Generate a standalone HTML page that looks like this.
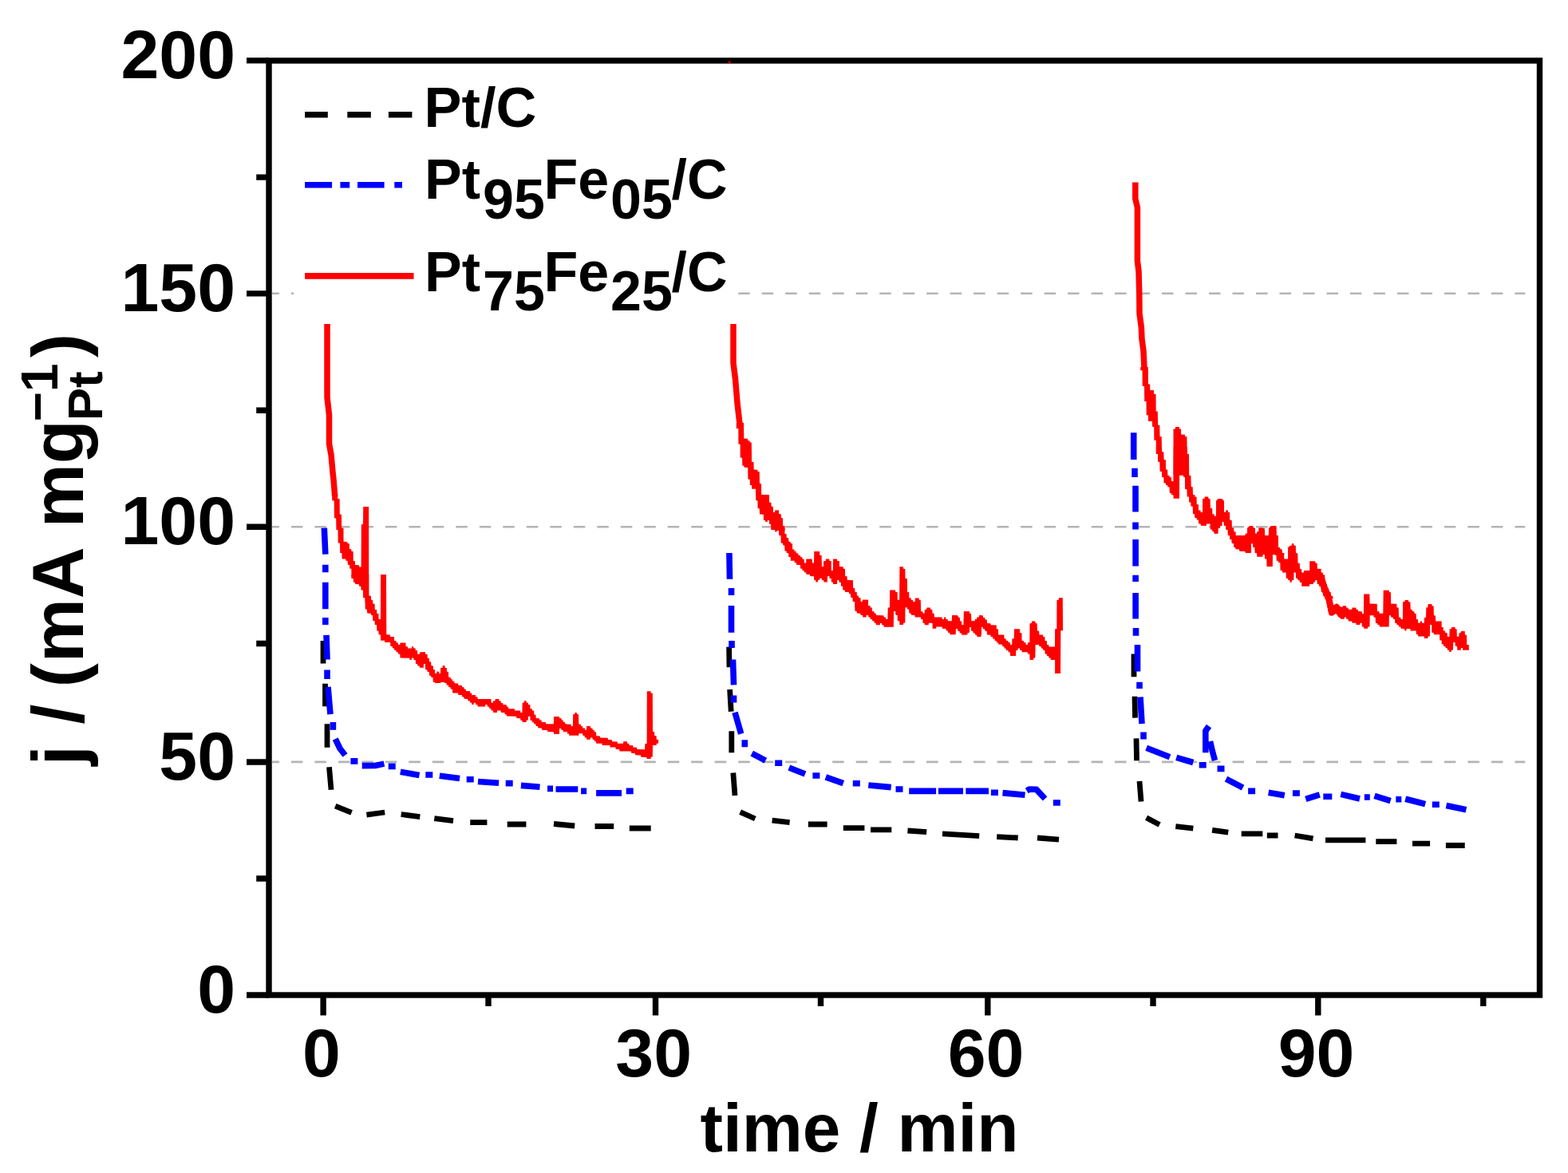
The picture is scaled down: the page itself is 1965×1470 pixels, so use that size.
<!DOCTYPE html>
<html lang="en"><head><meta charset="utf-8"><title>Chronoamperometry: j vs time</title>
<style>
html,body{margin:0;padding:0;background:#fff;}
body{width:1965px;height:1470px;overflow:hidden;}
svg{display:block;}
text{font-family:"Liberation Sans",sans-serif;font-weight:bold;fill:#000;}
.tick{font-size:86px;}
.leg{font-size:70.4px;}
.ttl{font-size:85.5px;}
.ax{stroke:#000;stroke-width:7.4;fill:none;}
.red{stroke:#ff0000;stroke-width:7.4;fill:none;stroke-linejoin:round;stroke-linecap:butt;}
.blue{stroke:#0000ff;stroke-width:7.6;fill:none;stroke-linejoin:round;stroke-linecap:butt;}
.blk{stroke:#000;stroke-width:6.8;fill:none;stroke-linejoin:round;stroke-linecap:butt;}
</style></head><body>
<svg width="1965" height="1470" viewBox="0 0 1965 1470">
<rect x="0" y="0" width="1965" height="1470" fill="#fff"/>
<g id="grid" stroke="#b4b4b4" stroke-width="2.6" fill="none">
<path d="M341 367.8H349.9 M364.9 367.8H379.4 M394.4 367.8H408.9 M423.9 367.8H438.4 M453.4 367.8H467.9 M482.9 367.8H497.4 M512.3 367.8H526.8 M541.8 367.8H556.3 M571.3 367.8H585.8 M600.8 367.8H615.3 M630.3 367.8H644.8 M659.8 367.8H674.3 M689.3 367.8H703.8 M718.8 367.8H733.3 M748.3 367.8H762.8 M777.8 367.8H792.3 M807.2 367.8H821.8 M836.7 367.8H851.2 M866.2 367.8H880.7 M895.7 367.8H910.2 M925.2 367.8H939.7 M954.7 367.8H969.2 M984.2 367.8H998.7 M1013.7 367.8H1028.2 M1043.2 367.8H1057.7 M1072.7 367.8H1087.2 M1102.2 367.8H1116.7 M1131.6 367.8H1146.1 M1161.1 367.8H1175.6 M1190.6 367.8H1205.1 M1220.1 367.8H1234.6 M1249.6 367.8H1264.1 M1279.1 367.8H1293.6 M1308.6 367.8H1323.1 M1338.1 367.8H1352.6 M1367.6 367.8H1382.1 M1397 367.8H1411.5 M1426.5 367.8H1441 M1456 367.8H1470.5 M1485.5 367.8H1500 M1515 367.8H1529.5 M1544.5 367.8H1559 M1574 367.8H1588.5 M1603.5 367.8H1618 M1633 367.8H1647.5 M1662.5 367.8H1677 M1691.9 367.8H1706.4 M1721.4 367.8H1735.9 M1750.9 367.8H1765.4 M1780.4 367.8H1794.9 M1809.9 367.8H1824.4 M1839.4 367.8H1853.9 M1868.9 367.8H1883.4 M1898.4 367.8H1911.3"/>
<path d="M341 660.2H349.9 M364.9 660.2H379.4 M394.4 660.2H408.9 M423.9 660.2H438.4 M453.4 660.2H467.9 M482.9 660.2H497.4 M512.3 660.2H526.8 M541.8 660.2H556.3 M571.3 660.2H585.8 M600.8 660.2H615.3 M630.3 660.2H644.8 M659.8 660.2H674.3 M689.3 660.2H703.8 M718.8 660.2H733.3 M748.3 660.2H762.8 M777.8 660.2H792.3 M807.2 660.2H821.8 M836.7 660.2H851.2 M866.2 660.2H880.7 M895.7 660.2H910.2 M925.2 660.2H939.7 M954.7 660.2H969.2 M984.2 660.2H998.7 M1013.7 660.2H1028.2 M1043.2 660.2H1057.7 M1072.7 660.2H1087.2 M1102.2 660.2H1116.7 M1131.6 660.2H1146.1 M1161.1 660.2H1175.6 M1190.6 660.2H1205.1 M1220.1 660.2H1234.6 M1249.6 660.2H1264.1 M1279.1 660.2H1293.6 M1308.6 660.2H1323.1 M1338.1 660.2H1352.6 M1367.6 660.2H1382.1 M1397 660.2H1411.5 M1426.5 660.2H1441 M1456 660.2H1470.5 M1485.5 660.2H1500 M1515 660.2H1529.5 M1544.5 660.2H1559 M1574 660.2H1588.5 M1603.5 660.2H1618 M1633 660.2H1647.5 M1662.5 660.2H1677 M1691.9 660.2H1706.4 M1721.4 660.2H1735.9 M1750.9 660.2H1765.4 M1780.4 660.2H1794.9 M1809.9 660.2H1824.4 M1839.4 660.2H1853.9 M1868.9 660.2H1883.4 M1898.4 660.2H1911.3"/>
<path d="M341 954.9H349.9 M364.9 954.9H379.4 M394.4 954.9H408.9 M423.9 954.9H438.4 M453.4 954.9H467.9 M482.9 954.9H497.4 M512.3 954.9H526.8 M541.8 954.9H556.3 M571.3 954.9H585.8 M600.8 954.9H615.3 M630.3 954.9H644.8 M659.8 954.9H674.3 M689.3 954.9H703.8 M718.8 954.9H733.3 M748.3 954.9H762.8 M777.8 954.9H792.3 M807.2 954.9H821.8 M836.7 954.9H851.2 M866.2 954.9H880.7 M895.7 954.9H910.2 M925.2 954.9H939.7 M954.7 954.9H969.2 M984.2 954.9H998.7 M1013.7 954.9H1028.2 M1043.2 954.9H1057.7 M1072.7 954.9H1087.2 M1102.2 954.9H1116.7 M1131.6 954.9H1146.1 M1161.1 954.9H1175.6 M1190.6 954.9H1205.1 M1220.1 954.9H1234.6 M1249.6 954.9H1264.1 M1279.1 954.9H1293.6 M1308.6 954.9H1323.1 M1338.1 954.9H1352.6 M1367.6 954.9H1382.1 M1397 954.9H1411.5 M1426.5 954.9H1441 M1456 954.9H1470.5 M1485.5 954.9H1500 M1515 954.9H1529.5 M1544.5 954.9H1559 M1574 954.9H1588.5 M1603.5 954.9H1618 M1633 954.9H1647.5 M1662.5 954.9H1677 M1691.9 954.9H1706.4 M1721.4 954.9H1735.9 M1750.9 954.9H1765.4 M1780.4 954.9H1794.9 M1809.9 954.9H1824.4 M1839.4 954.9H1853.9 M1868.9 954.9H1883.4 M1898.4 954.9H1911.3"/>
</g>
<g id="curves">
<path class="blk" d="M405 803 L405 831.4 M407.5 856.7 L407.5 885.3 M410 907.3 L410 936.7 M412.5 961.2 L415 989.8 M420.2 1010.2 L440.6 1018.4 M459.4 1021.1 L482.2 1018 M502.7 1020.5 L526.3 1023.6 M544.3 1025.7 L568 1028.7 M589.2 1030.6 L610.4 1030.6 M635.7 1033 L659.4 1033 M694 1032.5 L720.2 1035 M745.5 1035.5 L769.2 1035.5 M788.8 1038 L815.7 1038"/>
<path class="blk" d="M913.6 810.6 L914 836.3 M914.6 864 L916.2 891.8 M916.8 916.3 L916.8 943.3 M918.8 968.6 L921 997.1 M927.6 1017.6 L946.3 1026 M967.6 1028.2 L989.6 1030.6 M1012.8 1033 L1036.6 1033 M1056.8 1037.6 L1083.4 1037.6 M1091 1039.8 L1117.3 1039.8 M1137.4 1041 L1161.2 1042.7 M1181 1044.9 L1227.2 1047.6 M1249.2 1048.6 L1275.7 1050 M1300 1050 L1327 1052.2"/>
<path class="blk" d="M1421 819.6 L1421 848.2 M1422 872.7 L1422.5 899.6 M1424 925.4 L1424.5 953.3 M1428 979 L1430 1004.6 M1436.6 1024.7 L1453.1 1033.5 M1473.3 1035.7 L1495.3 1038.1 M1519.1 1040.3 L1539.2 1043.1 M1555.7 1044.9 L1582.3 1044.9 M1587.8 1047 L1601.5 1047 M1622.6 1047 L1645.5 1050.8 M1661 1052.8 L1711.4 1052.8 M1724.3 1054.6 L1750.4 1054.6 M1770 1057.1 L1792.1 1057.1 M1811.9 1059.5 L1835.7 1059.5"/>
<path class="blue" d="M406.3 661.7 L407.8 694.7 M407.8 707.8 L407.8 717.2 M407.8 729.8 L407.8 763.3 M407.8 773.9 L407.8 782.9 M409 795.9 L410 826.5 M410 839.6 L410 851 M411 860.8 L414 895.1 M417.4 904.9 L417.4 914.7 M420.2 926 L426 938 L432.5 946.5 M439.4 953.9 L448.4 953.9 M453.7 959.6 L470 959.5 L481.4 957.1 M486.7 960.4 L495.7 960.4 M501.8 967.3 L525.5 971.5 M533.3 971 L542.3 971 M550.8 972.2 L576.1 975.6 M584.7 976.7 L593.7 976.7 M599 979.5 L625.1 981.3 M633.7 981.6 L642.7 981.6 M652.9 984.4 L676.5 986.2 M686 988.4 L693 988.4 M696.5 989 L724.3 989 M728.1 991.4 L735.1 991.4 M747.1 993.9 L779 993.9 M784.7 991.4 L793.7 991.4"/>
<path class="blue" d="M913.9 693 L914.5 725.7 M916.5 737 L916.5 746 M916.5 759 L916.5 792.7 M917 803 L917 812 M918.5 826.5 L919.5 858.4 M919.5 871.4 L919.5 880.4 M921 892.7 L928.7 919.6 M933.3 927.3 L933.3 936.3 M942.2 944.1 L959.4 953.1 M971.2 956.3 L980.2 956.3 M988.8 962 L1009 970 M1018.4 972 L1027.4 972 M1034.8 973.8 L1056.8 981.7 M1068.8 981.7 L1077.8 981.7 M1088.3 984 L1116.7 986.6 M1122.5 989 L1131.5 989 M1139.2 991.4 L1173.1 991.4 M1175.9 991.4 L1207 991.4 M1210.3 991.4 L1239 991.4 M1241.9 993.2 L1250.9 993.2 M1256.5 993.6 L1284.5 996.3 M1286.7 991 L1290 989 L1298.6 989.2 L1309.6 1001 M1319.8 1006 L1328.8 1006"/>
<path class="blue" d="M1420.7 542.3 L1420.7 576 M1422 586.7 L1422 598 M1423 608.8 L1423 641.4 M1423 654.5 L1423 663.5 M1423.1 676 L1423.1 709.4 M1423.1 720.8 L1423.1 729 M1423.1 742.9 L1423.1 775.5 M1423.5 787 L1423.5 796.7 M1425.5 808 L1425.5 841.6 M1428 854.7 L1428 862.9 M1429 873.5 L1431 907 M1433 917.5 L1433 926.5 M1436.6 937.2 L1466 948.7 M1474.2 949.3 L1495.3 955.5 M1502.7 958.8 L1511.7 958.8 M1510.8 943.2 L1510.8 916 L1515 910 M1516.5 929 L1519 940 L1522.5 953 M1525.5 963.4 L1534.5 963.4 M1536.5 976.2 L1557.6 987.2 M1564.1 991.4 L1573.1 991.4 M1589.6 993.2 L1609.8 996.7 M1619.9 994 L1628.9 994 M1636.3 1001.3 L1653.8 995.8 M1658.3 998.2 L1669.3 998.2 M1680.3 995.4 L1704 1001 M1709.8 999 L1716.8 999 M1722.5 997.3 L1742.6 1003.7 M1749.3 1001.8 L1756.3 1001.8 M1761.2 1001.2 L1786.2 1007.6 M1794.8 1008.3 L1803.8 1008.3 M1812.4 1009.5 L1837.4 1014.8"/>
<polyline class="red" style="stroke-width:7.5" points="410,406 410,498 412.5,520 412.5,556 415,570 417.3,595 417.9,600 419.7,622"/>
<polyline class="red" style="stroke-width:7.5" points="919,406 919,455 921.5,475 924,505 926.5,527 927.4,533"/>
<polyline class="red" style="stroke-width:7.5" points="1422.8,228.5 1422.8,249 1425.4,260 1425.4,327 1427,340 1427.8,370 1428,393 1430.3,410 1431,425 1433,440 1434,462"/>
<polyline class="red" points="1655.5,722.4 1660.4,737.2 1665.3,748.6 1668.6,764.9 1675.1,760.4 1680,767.4 1683.3,761.9"/>
<polyline class="red" points="1655.5,725.6 1660.4,740.4 1665.3,751.8 1668.6,768.1 1675.1,763.6 1680,770.6 1683.3,765.1"/>
<polyline class="red" points="1655.5,724 1660.4,738.8 1665.3,750.2 1668.6,766.5 1675.1,762 1680,769 1683.3,763.5"/>
<polygon fill="#ff0000" points="416.2,620 416.2,627.3 418.7,627.5 418.9,649.2 421.2,649.4 421.4,663.9 423.5,664.1 423.7,680.6 426,680.8 426.2,693 428.4,693.2 428.6,700.4 433.2,700.5 433.3,702.7 435.6,702.8 435.9,707.7 438,707.9 438.2,712.6 440.3,712.8 440.5,724.7 442.8,724.9 443.1,729.7 445.1,729.9 445.4,732 450,732.2 450.2,734.6 452.4,734.8 452.7,739.4 455,739.6 455.2,749 457.5,749.2 457.7,755 467.1,755 467,752 464.8,751.8 464.6,746.9 462.3,746.7 462.1,634.9 455.2,634.9 455,657 452.8,657.2 452.6,710.6 450.2,710.5 449.9,708.2 445.1,708 444.9,703.3 442.8,703.1 442.6,690.9 440.5,690.7 440.2,688.3 437.9,688.1 437.8,681.3 435.5,681.1 435.2,679 430.6,678.8 430.4,661.7 428.1,661.5 427.9,644.8 425.8,644.6 425.6,625.2 423.2,625.1 423.2,620"/>
<polygon fill="#ff0000" points="922.8,530 922.8,536.9 925.3,537.1 925.4,556.6 927.6,556.8 927.7,573.6 930.1,573.8 930.3,583.5 932.3,583.7 932.6,585.8 937.2,586 937.4,600.5 939.7,600.7 939.9,607.9 942.1,608.1 942.2,612.7 947,612.8 947.3,627.2 949.4,627.3 949.6,637 951.9,637.2 952.2,644.3 956.8,644.5 956.9,651.7 959.2,651.9 959.5,654 961.5,654 961.7,651.7 964,651.9 964.3,656.7 966.3,656.9 966.6,663.9 971.2,664.1 971.6,665 983.6,665 983.4,659.2 981,659 980.8,649.4 978.8,649.2 978.5,644.5 976,644.3 975.8,639.6 971.4,639.6 971.2,642 968.9,642 968.7,634.9 966.4,634.7 966.1,630.1 964,629.9 963.8,622.8 961.5,622.6 961.3,620.3 959.1,620.3 958.8,622.6 956.8,622.6 956.5,620.5 954.2,620.3 954,605.9 952,605.8 951.7,591.1 949.6,590.9 949.3,588.7 944.7,588.5 944.5,579 942.1,578.9 941.8,554.5 939.7,554.3 939.5,552.2 937.2,552 936.9,549.7 932.3,549.5 932.1,530"/>
<polygon fill="#ff0000" points="1429.2,460 1429.2,464.1 1431.5,464.3 1431.7,483.7 1434,483.9 1434.2,502.9 1436.5,503.1 1436.7,520.2 1438.8,520.3 1439,527.8 1443.9,528 1444.1,534.8 1446.2,535 1446.4,551.7 1448.7,551.8 1448.9,568.8 1451,569 1451.2,578.5 1453.4,578.7 1453.7,590.6 1456,590.8 1456.2,595 1463.2,595 1462.9,588.6 1460.9,588.4 1460.6,576.4 1458.3,576.2 1458,566.7 1456,566.5 1455.7,547.2 1453.5,547.1 1453.3,532.7 1451.1,532.6 1450.8,515.6 1448.7,515.4 1448.5,494 1446.2,493.8 1445.9,489.1 1441.3,488.9 1441.1,481.5 1438.9,481.3 1438.8,460"/>
<polygon fill="#ff0000" points="1520,644.4 1521.8,647.1 1524.1,647.1 1524.1,627.9 1526.4,625.1 1531.5,625.1 1533.8,627.9 1533.8,642.1 1536.1,642.1 1536.5,639.8 1538.8,639.8 1538.8,642.1 1541.1,642.1 1541.1,651.7 1543.4,652.2 1543.7,661.4 1546.2,661.8 1546.2,666.4 1548.5,666.9 1548.5,671 1560.4,671.2 1560.9,669.2 1563.2,668.7 1563.2,661.8 1565.5,659.5 1570.1,659.5 1570.3,661.8 1572.8,662 1572.8,668.7 1575.1,668.7 1575.1,666.4 1577.4,666.4 1577.4,661.8 1584.7,661.8 1585.2,671 1589.8,671 1590.3,661.8 1592.6,659.5 1599.4,659.5 1599.7,671 1601.7,671.2 1601.9,685.7 1604,686.2 1604.3,688 1606.6,688.5 1606.8,693.1 1609.1,693.5 1609.3,700.4 1614.1,700.4 1614.1,686.2 1616.4,683.9 1618.7,683.4 1619.2,681.1 1621,681.1 1621.5,683.4 1623.8,683.7 1624,693.1 1626.3,693.5 1626.5,705.5 1628.8,705.9 1629,712.8 1631.1,713.3 1631.3,717.4 1633.9,717.4 1633.9,715.1 1641.2,715.1 1641.2,703.2 1648.1,703.2 1648.6,705.5 1650.6,705.7 1650.9,712.8 1655.5,712.8 1655.7,717.4 1657.8,717.7 1658,720.2 1660.2,720.4 1660.5,732.1 1662.8,732.4 1663,737.1 1665.1,737.4 1665.4,741.7 1667.7,742 1667.9,746.8 1670.2,747.1 1670.6,750 1660.5,750 1660.2,747 1658,746.8 1657.8,741.9 1655.7,741.7 1655.5,734.8 1653.2,734.7 1652.9,732.3 1650.7,732.1 1650.4,727 1648.4,727 1648.1,729.6 1646.1,729.8 1645.8,731.9 1641.2,732.1 1641,734.7 1631.3,734.7 1631.1,730 1628.8,729.8 1628.6,727.2 1626.5,727 1626.3,724.9 1624,724.7 1623.8,717.4 1621.5,717.4 1621.3,726.9 1619,727 1618.7,729.8 1616.7,729.8 1616.4,727.2 1614.3,727 1614.1,725 1611.8,724.7 1611.6,717.6 1607.1,717.4 1606.8,715.1 1604.5,714.8 1604.3,705.2 1602.2,705 1601.9,702.9 1599.7,702.7 1599.4,695.8 1597.3,695.5 1597.1,688.2 1595,688 1594.8,710.1 1587.5,710.1 1587.3,700.6 1585,700.4 1584.7,693.2 1582.7,693.2 1582.4,697.8 1575.3,697.7 1575.1,693.2 1572.8,693.1 1572.5,685.9 1570.3,685.7 1570.1,680.9 1567.9,680.9 1567.8,693.1 1560.9,693.1 1560.4,690.9 1553.5,690.8 1553.2,688.5 1548.7,688.2 1548.5,685.9 1546.4,685.7 1546.2,680.9 1543.9,680.7 1543.7,676.1 1541.3,675.9 1541.1,671.2 1539,671 1538.8,663.9 1536.5,663.7 1536.3,659.1 1534,658.9 1533.8,654 1531.5,654 1531.5,658.9 1529.2,659.1 1528.9,661.4 1526.6,661.8 1526.4,668.7 1521.8,668.7 1521.8,666.4 1520,666"/>
<polygon fill="#ff0000" points="1680,761.5 1682.3,761.1 1682.6,759.2 1686.9,759.2 1687.3,761.5 1689.6,761.7 1689.9,763.8 1694.2,763.8 1694.7,761.5 1699.3,761.5 1699.6,763.8 1701.9,764 1702,766.1 1706.6,766.3 1707.1,768.9 1708.9,768.9 1709.2,744.5 1716.3,744.5 1716.6,756.5 1725.7,756.7 1725.9,766.1 1728.2,766.3 1728.7,768.7 1733.3,768.7 1733.7,739.7 1740.6,739.7 1740.9,742.1 1742.9,742.2 1743.2,756.5 1750.3,756.7 1750.5,761.3 1752.7,761.5 1753,773.5 1755.3,773.7 1755.6,776 1757.9,776 1758.1,754.2 1760.4,754 1760.6,751.9 1764.9,751.9 1765.2,754.2 1767.4,754.4 1767.7,763.8 1769.8,764 1770,766.1 1772.3,766.3 1772.6,768.7 1774.6,768.9 1774.9,776 1776.9,776.2 1777.2,780.8 1779.6,780.8 1780.1,778.5 1781.9,778.5 1782.2,780.8 1784.7,780.8 1785,773.9 1787,773.7 1787.3,761.5 1789.3,761.3 1789.6,756.9 1794.3,756.9 1794.6,759.2 1796.6,759.4 1796.9,771.2 1798.9,771.4 1799.2,778.5 1806.6,778.5 1806.7,785.9 1808.6,786.1 1808.8,790.5 1811.1,790.6 1811.3,792.9 1813.6,793.2 1813.9,797.8 1816.4,797.8 1816.6,788.3 1818.7,788.2 1818.9,786.1 1823.5,786.1 1823.7,788.3 1825.6,788.6 1825.8,797.8 1828.3,797.8 1828.6,793.2 1830.6,793 1830.9,790.9 1835.7,790.9 1835.9,795.5 1838,795.7 1838.2,807.9 1840.7,808.1 1840.9,814.8 1840.9,814.8 1833.2,814.8 1832.9,812 1830.9,812 1830.6,814.8 1826.3,814.8 1826,809.9 1823.7,809.7 1823.5,805 1821.2,805 1821,814.6 1818.9,814.8 1818.7,817.1 1816.4,817.1 1815.9,814.8 1813.9,814.6 1813.6,812.2 1811.6,812 1811.3,809.9 1809,809.7 1808.8,807.4 1806.7,807.3 1806.6,802.6 1804.3,802.4 1804,795.2 1796.9,795.2 1796.6,792.9 1794.3,792.8 1794.2,783.1 1792,783.1 1791.9,797.5 1789.6,797.5 1789.3,799.9 1785,799.9 1784.7,797.5 1777.2,797.5 1776.9,795.2 1774.9,795.1 1774.6,790.5 1767.7,790.5 1767.2,787.9 1762.7,787.9 1762.2,790.5 1760.4,790.5 1759.9,787.9 1755.6,787.7 1755.3,785.6 1753,785.4 1752.7,783.3 1750.5,783.1 1750.3,781 1748.2,780.8 1748,775.9 1745.9,775.8 1745.7,773.7 1743.2,773.5 1742.9,771.2 1740.9,771.2 1740.6,785.6 1728.9,785.6 1728.7,783.3 1726.4,783.1 1725.9,781 1723.9,780.8 1723.6,773.7 1721.6,773.5 1721.3,771.2 1716.7,771.2 1716.5,785.4 1714.3,785.4 1714,787.7 1709.2,787.7 1708.9,785.6 1706.9,785.4 1706.6,780.8 1704.6,780.8 1704.3,783.1 1699.6,783.1 1699.3,780.8 1694.7,780.8 1694.2,778.5 1689.9,778.5 1689.6,775.9 1687.3,775.8 1686.9,773.5 1685.1,773.5 1684.6,775.8 1680,775.8"/>
<polygon fill="#ff0000" points="530,817.4 532.8,817.4 533,819.7 535.3,819.9 535.5,824.8 537.8,825 538.1,829.4 540.1,829.6 540.4,834.4 542.7,834.6 542.9,839.3 544.9,839.5 545.2,844.1 547.4,844.1 547.7,841.8 549.7,841.8 550,844.1 552.3,844.1 552.5,837.2 554.8,837 555.1,834.4 557.1,834.4 557.4,837 559.6,837.2 559.8,841.8 562,842 562.1,849.1 564.4,849.3 564.7,851.6 566.7,851.8 567,854 569.3,854.2 569.5,856.2 574.1,856.4 574.4,858.8 578.9,859 579.1,861.1 581.4,861.3 581.7,863.6 583.7,863.7 584,865.9 588.8,866.1 589.1,868.4 591.1,868.6 591.3,870.9 595.9,871.1 596.1,873.3 598.4,873.5 598.7,875.9 615.4,876 615.7,880.8 617.7,880.8 618,878.5 620.5,878.3 620.7,876 625.3,876 625.5,878.3 627.6,878.5 627.8,880.8 630.1,881 630.4,883.1 634.7,883.3 635,885.6 637,885.8 637.3,888.2 644.8,888.3 645.1,890.5 652.1,890.6 652.4,892.9 654.4,892.9 654.7,880.8 656.7,880.6 657,878.3 659.5,878.3 659.8,880.6 661.8,880.8 662.1,883.1 664.4,883.3 664.5,888.2 666.8,888.3 667.1,890.5 669.1,890.6 669.4,895.5 671.4,895.7 671.7,900.1 676,900.3 676.3,902.4 678.6,902.6 678.8,905 683.6,905.2 683.8,907.4 693.9,907.4 694.2,898.1 700.8,898.1 701.1,900.3 703.4,900.5 703.6,902.7 705.7,902.9 705.9,905.2 708,905.3 708.2,907.4 710,907.6 710,917.3 705.9,917.3 705.7,915 703.6,914.8 703.4,912.7 701.1,912.5 700.8,919.7 694.2,919.7 693.9,917.3 686.4,917.1 686.1,915 679.1,914.8 678.8,912.4 674.2,912.2 674,910.1 671.7,909.9 671.4,907.6 669.4,907.4 669.1,905.3 667.1,905.2 666.8,902.9 664.5,902.7 664.4,897.8 662.1,897.8 661.8,902.5 659.8,902.7 659.5,905 654.7,905 654.4,902.9 652.4,902.7 652.1,900.3 647.4,900.1 647.1,897.8 635,897.6 634.7,895.4 632.7,895.2 632.4,892.9 627.8,892.9 627.6,890.5 623,890.5 622.8,892.9 618.2,892.9 618,890.6 615.7,890.5 615.4,888.2 613.4,888 613.1,885.8 610.8,885.6 610.6,883.1 608.3,883.1 608.1,885.6 598.7,885.6 598.4,883.3 596.1,883.1 595.9,880.8 593.8,880.8 593.6,883.1 591.3,883.1 591.1,880.8 589.1,880.6 588.8,878.4 586.5,878.2 586.2,875.9 581.7,875.8 581.4,873.5 579.1,873.3 578.9,871.1 574.4,870.9 574.1,868.6 567.2,868.4 566.9,863.7 564.7,863.6 564.4,861.3 562.1,861.1 562,858.8 559.8,858.6 559.6,856.2 557.4,856 557.1,853.7 552.5,853.5 552.3,856 545.2,856 544.9,853.7 542.9,853.5 542.7,848.9 540.6,848.7 540.3,846.6 538.1,846.4 537.8,841.7 535.8,841.5 535.5,839.2 533.2,839 533,832.1 530.9,832 530.7,836.7 530,836.7"/>
<polygon fill="#ff0000" points="680,905.2 683.9,905.2 684.1,907.5 693.8,907.7 694.1,897.9 700.9,897.9 701.1,900.2 703.4,900.3 703.7,902.6 705.7,902.8 706,905 708,905.2 708.3,907.5 715.6,907.7 715.8,910 717.9,910 718.2,895.3 720.2,895.1 720.4,893.1 722.7,893.1 723,895.1 725,895.3 725.3,907.5 727.8,907.7 728,910 730.1,910.2 730.3,912.4 732.8,912.6 733.1,914.8 734.9,914.8 735.1,910 739.9,910 740.2,912.4 742.4,912.6 742.7,914.8 744.7,915 745,917.3 747,917.5 747.3,922.2 751.9,922.4 752.1,924.5 761.7,924.7 762,927.1 766.8,927.2 767.1,929.3 773.7,929.4 773.9,931.8 781,931.8 781.3,929.3 785.9,929.3 786.1,931.7 788.4,931.8 788.6,934.1 793.2,934.3 793.4,936.6 798,936.8 798.3,939 808.1,939.2 808.4,932 810.6,931.8 810.8,866.2 815.5,866.2 815.7,868.5 817.8,868.7 818,917.1 820.1,917.3 820.3,922 822.6,922.2 822.8,926.8 825.1,927 825.1,931.7 822.8,931.7 822.6,933.9 818,934.1 817.8,948.6 815.7,948.8 815.5,951.1 810.7,951.1 810.4,949 803.3,948.8 803.1,946.5 796.2,946.3 795.9,944 791.1,943.8 790.9,941.5 776.4,941.5 776.2,939.1 771.7,938.9 771.4,936.6 764.5,936.4 764.3,934.1 754.7,934.1 754.4,931.8 747.3,931.7 747,929.3 745,929.1 744.7,927 742.7,926.8 742.4,924.4 740.2,924.2 739.9,926.8 735.1,926.8 734.9,924.4 732.8,924.2 732.6,921.9 730.3,921.7 730.1,919.3 725.5,919.2 725.2,921.7 713.3,921.7 713.1,919.6 711,919.4 710.8,917.1 706.2,917 706,914.8 703.7,914.6 703.4,912.6 701.1,912.4 700.9,919.4 694.1,919.4 693.8,917.1 686.4,917 686.2,914.6 680,914.6"/>
<polygon fill="#ff0000" points="1200,771.8 1200.7,772.1 1200.9,774.1 1202.8,774.3 1203,778.7 1205.1,778.9 1205.3,783.3 1207.8,783.3 1208.1,766.6 1214.7,766.6 1215,768.8 1217,769 1217.3,778.7 1222,778.7 1222.3,776.4 1224.3,776.2 1224.6,773.9 1227.1,773.7 1227.4,771.3 1231.7,771.3 1232,773.7 1234.2,773.9 1234.4,776.2 1236.7,776.4 1237,781 1241.3,781.2 1241.6,783.3 1248.7,783.4 1248.9,788.3 1251,788.5 1251.2,795.4 1258.3,795.6 1258.6,800.3 1260.6,800.4 1260.9,802.7 1263.4,802.9 1263.6,805.1 1265.9,805.3 1266.1,808.1 1268.2,808.1 1268.4,800.5 1270.7,800.3 1271,788.3 1277.9,788.3 1278.1,793.1 1280.4,793.3 1280.6,802.7 1282.8,802.9 1283.1,805.1 1285.4,805.3 1285.7,808.1 1287.7,808.1 1288,805.3 1290.3,805.1 1290.5,781.2 1292.8,781.1 1293,778.5 1297.3,778.5 1297.6,781.1 1299.6,781.2 1299.9,790.6 1302.1,790.8 1302.4,795.4 1307,795.6 1307.3,798 1309.3,798.1 1309.6,803 1311.9,803.2 1312,808.1 1314.3,808.2 1314.6,810.4 1322,810.4 1322.1,788.3 1324.3,788.1 1324.4,751.9 1326.7,751.7 1327,749.3 1331.8,749.3 1332,790.2 1329.3,790.3 1329,843.9 1322.1,843.9 1322.1,826.9 1316.9,826.9 1316.6,824.8 1314.6,824.6 1314.3,822.3 1312,822.1 1311.9,819.7 1309.6,819.5 1309.3,814.9 1307.3,814.8 1307,812.7 1305,812.5 1304.7,810.3 1302.4,810.1 1302.1,807.9 1297.6,807.9 1297.3,824.4 1295.3,824.6 1295.1,826.9 1290.5,826.9 1290.3,819.7 1288,819.5 1287.7,817.2 1280.6,817.2 1280.4,814.9 1278.1,814.8 1277.9,812.5 1275.8,812.5 1275.5,814.8 1273.3,814.9 1273,822.1 1266.1,822.1 1265.9,817.4 1263.6,817.2 1263.4,815.1 1260.9,814.9 1260.6,812.7 1258.6,812.5 1258.3,810.3 1256.3,810.1 1256,807.8 1251.2,807.6 1251,805.5 1248.9,805.3 1248.7,803.1 1246.7,802.9 1246.4,800.6 1244.1,800.4 1243.9,798.1 1241.6,798 1241.3,795.8 1237,795.6 1236.7,791 1234.4,790.8 1234.2,788.5 1232,788.3 1231.7,786 1229.7,786 1229.4,798 1224.6,798 1224.3,795.8 1222.3,795.6 1222,793.4 1219.7,793.2 1219.6,790.8 1217.3,790.6 1217,786 1215,786 1214.7,793 1212.2,793.2 1211.9,795.6 1205.3,795.6 1205.1,793.4 1203,793.2 1202.8,790.8 1200,790.6"/>
<polygon fill="#ff0000" points="440.4,720 440.4,724.6 442.8,724.8 443,729.6 445.3,729.8 445.5,731.9 450.1,732.1 450.3,734.5 452.6,734.7 452.9,739.3 455.1,739.5 455.4,748.9 457.5,749.1 457.7,763.6 459.9,763.8 460.2,768.5 464.8,768.7 465,771 467.1,771.2 467.3,778.1 469.6,778.3 469.8,783.1 472.1,783.3 472.3,790.5 474.4,790.7 474.6,795.3 476.9,795.5 477.1,802.7 482,802.8 482.3,804.9 489.1,805.1 489.3,809.8 491.6,810 491.8,812.3 493.9,812.5 494.2,814.8 496.4,815 496.7,817.2 498.8,817.3 499,819.6 501.3,819.8 501.5,824.5 513.2,824.7 513.5,827 515.8,827 516,824.5 518.3,824.5 518.4,827 520.8,827.2 521,831.9 523.1,832 523.3,834.3 525.6,834.5 525.9,836.8 530.4,836.8 530.7,831.9 533,831.9 533.1,839.1 535.4,839.3 535.7,841.7 537.8,841.9 538,846.5 540.3,846.6 540.5,848.8 542.6,849 542.9,855 569.7,855 569.2,854.1 567.2,853.8 566.9,851.5 564.9,851.3 564.6,849 562.2,848.8 561.9,841.9 559.9,841.7 559.6,837.1 557.6,836.9 557.3,834.3 554.8,834.3 554.5,836.9 552.2,837.1 552.1,844.2 549.9,844 549.7,841.7 547.5,841.7 547.2,844 544.9,844 544.7,839.3 542.6,839.1 542.3,834.5 540.1,834.3 539.8,829.5 537.8,829.3 537.6,824.9 535.5,824.7 535.3,820 533,819.8 532.8,817.3 526.1,817.3 525.8,819.8 523.3,819.8 523,815.2 520.8,815.1 520.6,812.5 518.3,812.3 518.1,810.2 516,810.2 515.8,812.6 511.1,812.6 510.9,810.2 508.6,810 508.4,805.4 501.5,805.4 501.3,807.9 499,807.7 498.8,805.4 496.7,805.2 496.4,803.1 494.2,802.9 493.9,798.1 489.1,797.9 488.9,795.5 484.3,795.3 484,720 477.1,720 476.9,776 474.6,775.8 474.4,768.9 472.3,768.7 472.1,764.1 469.8,763.9 469.6,756.7 467.3,756.6 467,751.9 465,751.7 464.7,746.8 462.2,746.6 462.2,720"/>
<polygon fill="#ff0000" points="950,620 963.8,620 964,629.6 966.3,629.8 966.5,634.7 968.8,634.9 969,642 971.1,642 971.3,639.7 976,639.7 976.2,644.3 978.5,644.5 978.7,649.4 980.9,649.6 981.2,659.3 983.2,659.5 983.5,669.1 985.6,669.3 985.8,674 988.1,674.2 988.4,678.8 990.6,679 990.9,681.1 993,681.3 993.2,688.4 995.5,688.6 995.7,690.9 997.8,691.1 998,693.2 1000.3,693.4 1000.5,695.8 1002.8,695.9 1003.1,698.1 1005.3,698.2 1005.6,700.6 1007.7,700.8 1007.9,705.4 1010.2,705.4 1010.3,700.6 1017.7,700.6 1018,705.4 1020,705.4 1020.3,690.9 1027.1,690.9 1027.4,695.8 1029.6,695.9 1029.9,710 1031.9,710 1032.2,703.1 1034.7,702.9 1034.9,700.6 1039.3,700.6 1039.5,702.9 1041.7,703.1 1041.8,715.1 1043.9,715.1 1044.1,700.6 1049,700.6 1049.2,702.9 1051.5,703.1 1051.8,710.2 1056.3,710.4 1056.5,712.8 1058.8,712.9 1059,722.1 1061.3,722.3 1061.6,727 1068.7,727.2 1068.9,736.8 1071,737 1071.2,741.7 1073.3,741.9 1073.5,746.6 1075.8,746.7 1076.1,749 1078.1,749.2 1078.4,753.9 1080.6,754.1 1080.9,751.8 1088,751.8 1088.2,755 1071.2,755 1071,754.1 1068.9,753.9 1068.7,749 1066.4,748.8 1066.2,744.2 1064.2,744 1063.9,741.9 1059,741.7 1058.8,739.4 1056.5,739.2 1056.3,734.5 1054.1,734.3 1053.8,729.7 1051.8,729.6 1051.5,727 1049.2,727 1049,731.9 1044.1,731.9 1043.9,729.7 1041.8,729.6 1041.7,724.9 1039.5,724.7 1039.3,722.1 1037.1,722.1 1036.8,729.6 1032.4,729.6 1032.2,727.2 1029.9,727 1029.6,724.7 1027.4,724.7 1027.1,726.8 1025.1,727 1024.8,729.6 1022.6,729.6 1022.3,727.2 1020.3,727 1020,722.3 1015.2,722.1 1015,720 1010.3,719.8 1010.2,717.5 1007.9,717.3 1007.7,715.2 1005.6,715.1 1005.3,712.8 1003.1,712.6 1002.8,707.9 998,707.7 997.8,705.3 995.7,705.1 995.5,702.8 990.9,702.7 990.6,698.1 988.4,697.9 988.1,693.2 985.8,693 985.6,690.7 983.5,690.5 983.2,683.4 981.2,683.2 980.9,680.8 978.7,680.6 978.5,671.2 976.2,671 976,664.1 973.7,663.9 973.4,666.4 971.4,666.4 971.1,664.1 966.5,663.9 966.3,656.7 964.2,656.6 964,651.9 961.8,651.7 961.5,654 959.5,654 959.2,651.9 957.2,651.7 956.9,644.5 952,644.3 951.8,637.2 950,637"/>
<polygon fill="#ff0000" points="1050,703.3 1051.7,703.3 1051.8,710.2 1056.6,710.4 1056.9,712.7 1058.9,712.9 1059.2,722.1 1061.3,722.3 1061.5,727.2 1068.8,727.4 1069.1,737 1071.1,737.2 1071.4,741.9 1073.6,742.1 1073.9,746.9 1076,747.1 1076.2,749.2 1078.3,749.4 1078.5,754.1 1080.9,754.1 1081.2,751.7 1087.9,751.7 1088.1,758.9 1090.4,759.1 1090.7,761.2 1092.7,761.4 1093,766 1095.5,766.2 1095.7,768.5 1097.8,768.7 1098,771 1107.4,771.2 1107.7,773.4 1109.9,773.6 1110.2,775.9 1112.4,775.9 1112.7,761.4 1114.9,761.3 1115.2,739.6 1122.1,739.6 1122.4,741.9 1124.6,742.1 1124.8,751.7 1127.1,751.7 1127.4,710.2 1131.9,710.2 1132.2,712.7 1134.3,712.9 1134.5,724.9 1136.8,725.1 1137.1,741.9 1139.1,742.1 1139.4,749.2 1141.6,749.4 1141.8,751.7 1143.9,751.9 1144.1,754.1 1146.7,754.1 1146.9,749.4 1151.5,749.4 1151.8,751.7 1153.8,751.9 1154.1,766 1156.3,766.2 1156.5,768.5 1158.6,768.5 1158.8,763.9 1161.1,763.7 1161.4,761.4 1165.9,761.4 1166.2,763.7 1168.3,763.9 1168.5,768.5 1170.6,768.7 1170.9,773.6 1180.6,773.6 1180.9,775.9 1182.9,775.9 1183.2,773.4 1185.2,773.4 1185.5,775.9 1187.6,776.1 1187.8,778.3 1192.8,778.3 1193.1,771.1 1199.9,771.1 1200.2,773.6 1202.4,773.8 1202.7,778.3 1204.7,778.5 1205,783.2 1207.5,783.2 1207.8,766.2 1214.8,766.2 1215.1,768.7 1217,768.9 1217.1,778.3 1221.7,778.3 1222,776.1 1224.2,775.9 1224.5,773.6 1226.8,773.4 1227.1,771.1 1230,771.1 1230,795.3 1229.4,795.3 1229.1,797.6 1224.5,797.6 1224.2,795.3 1222,795.2 1221.7,792.9 1219.7,792.7 1219.4,790.5 1217.1,790.3 1217,785.7 1215.1,785.7 1214.8,792.7 1212.6,792.9 1212.4,795.3 1205,795.3 1204.7,792.9 1202.7,792.7 1202.4,790.5 1200.2,790.3 1199.9,788.1 1197.9,788.1 1197.7,795.3 1190.5,795.3 1190.2,792.9 1188,792.7 1187.8,790.5 1185.7,790.3 1185.5,788 1180.9,787.8 1180.6,785.5 1173.3,785.5 1173.1,787.8 1168.7,787.8 1168.5,780.7 1163.9,780.7 1163.6,783.2 1158.8,783.2 1158.6,780.9 1156.5,780.7 1156.3,776.1 1154.1,775.9 1153.8,773.6 1146.7,773.4 1146.4,771 1141.8,770.8 1141.6,768.7 1139.4,768.5 1139.1,763.7 1137.1,763.5 1136.8,761.2 1134.5,761.2 1134.3,780.6 1132.2,780.7 1131.9,782.9 1127.4,782.9 1127.1,778.3 1124.8,778.2 1124.6,771 1122.4,770.8 1122.1,766 1120.1,766 1119.8,785.7 1107.7,785.7 1107.4,783.4 1105.1,783.2 1104.9,780.9 1103.1,780.9 1102.8,783.2 1098,783.2 1097.8,780.9 1095.7,780.7 1095.5,778.5 1093.2,778.3 1092.9,776.1 1090.7,775.9 1090.4,773.6 1088.4,773.4 1088.1,771 1085.8,771 1085.6,773.4 1081.2,773.4 1080.9,771 1078.5,770.8 1078.3,768.7 1073.9,768.5 1073.6,765.9 1071.4,765.8 1071.1,753.8 1068.8,753.6 1068.6,749 1066.3,748.8 1066.1,744.2 1064.1,744 1063.8,741.8 1059,741.6 1058.7,739.3 1056.4,739.1 1056.2,734.5 1054.1,734.4 1053.9,729.7 1051.8,729.5 1051.7,726.9 1050,726.7"/>
<polygon fill="#ff0000" points="1470.5,537.6 1472.8,537.4 1473,535.1 1477.9,535.1 1478.1,537.4 1479.9,537.6 1480.2,544.5 1484.9,544.7 1485.2,547.1 1487.4,547.2 1487.7,569.1 1489.8,569.3 1490,595 1470.5,595"/>
<polygon fill="#ff0000" points="1448.8,560 1448.8,568.7 1451.1,568.9 1451.3,578.6 1453.6,578.8 1453.9,590.8 1456,590.9 1456.2,597.9 1458.3,598.1 1458.5,605.2 1460.8,605.4 1461,607.8 1463.1,607.9 1463.3,610.2 1465.5,610.4 1465.8,617.7 1467.9,617.9 1468.1,620.2 1470.4,620.3 1470.7,624.7 1477.9,624.7 1478.1,595.8 1482.8,595.8 1483.1,597.8 1484.9,598 1485.1,613 1487.4,613.2 1487.7,622.4 1489.9,622.6 1490.2,629.6 1492.3,629.8 1492.4,634.6 1494.7,634.8 1495,644 1497,644.2 1497.3,648.9 1499.5,649.1 1499.8,651.4 1501.9,651.6 1502.1,656.2 1504.6,656.4 1504.8,658.7 1511.7,658.9 1512,656.4 1516.5,656.4 1516.8,663.6 1519.1,663.8 1519.4,666.1 1521.4,666.3 1521.7,668.6 1526.2,668.6 1526.4,661.5 1528.7,661.3 1529,659 1531,658.8 1531.3,653.9 1533.6,653.9 1533.8,656.4 1536.1,656.6 1536.3,663.6 1538.6,663.8 1538.8,670.9 1541.1,671.1 1541.4,675.7 1543.4,675.9 1543.7,680.6 1545.9,680.8 1546.2,685.4 1548.3,685.5 1548.5,687.9 1553.1,688.1 1553.3,690.4 1560.6,690.6 1560.9,692.9 1567.8,692.9 1568,681.2 1570.1,681.2 1570.3,685.8 1572.5,686 1572.8,692.9 1574.9,693.1 1575.1,695 1609.5,695 1609.1,693.1 1606.8,692.9 1606.5,690.6 1604.5,690.4 1604.2,688.3 1602,688.1 1601.7,671.3 1599.5,671.1 1599.3,659 1592.6,659 1592.4,661.3 1590.1,661.5 1589.8,671.1 1585,671.1 1584.7,664 1582.7,663.8 1582.4,661.5 1577.9,661.5 1577.7,666.1 1575.4,666.3 1575.1,668.8 1572.8,668.8 1572.5,661.5 1570.5,661.3 1570.2,659 1565.7,659 1565.5,661.3 1563.2,661.5 1562.9,668.6 1560.9,668.8 1560.6,671.1 1548.5,671.1 1548.3,666.4 1546.2,666.3 1545.9,661.5 1543.7,661.3 1543.4,651.8 1541.1,651.7 1540.9,642.1 1538.8,641.9 1538.6,639.6 1536.3,639.4 1536.1,641.7 1534.1,641.7 1533.8,627.5 1531.5,627.3 1531.2,625 1526.7,625 1526.4,627.3 1524.1,627.5 1523.9,646.8 1521.8,646.8 1521.6,644.5 1519.4,644.3 1519.1,637.1 1516.9,637 1516.6,625.2 1514.5,625 1514.3,622.6 1509.7,622.6 1509.4,624.8 1507.1,625 1507,641.9 1504.7,641.9 1504.4,639.6 1502.1,639.4 1501.9,632.3 1499.8,632.1 1499.5,622.6 1497.5,622.4 1497.2,620.1 1495,619.9 1494.7,610.2 1492.7,610.1 1492.4,596 1490.2,595.8 1489.9,569.1 1487.9,568.9 1487.6,560 1470.7,560 1470.4,603.2 1468.1,603 1467.9,598.3 1465.8,598.1 1465.5,596 1463.3,595.8 1463.1,588.8 1461,588.7 1460.8,576.5 1458.5,576.3 1458.3,566.6 1456.2,566.4 1456,560"/>
</g>
<g id="legend">
<rect x="368" y="96" width="555" height="300" fill="#fff"/>
<path class="blk" style="stroke-width:7.4" d="M382.1 143.7 H410.8 M435.3 143.7 H464.8 M486.9 143.7 H516.4"/>
<path class="blue" style="stroke-width:7.6" d="M382.1 231.8 H416.1 M426.4 231.8 H438.2 M448 231.8 H481.6 M494.3 231.8 H504"/>
<path class="red" style="stroke-width:7.6" d="M382.1 345.9 H518.5"/>
<text class="leg" x="531.5" y="159.4">Pt/C</text>
<text class="leg" style="font-size:70px" x="532" y="249.4">Pt<tspan dx="3" dy="24.2">95</tspan><tspan dx="-1.5" dy="-24.2">Fe</tspan><tspan dx="2" dy="24.2">05</tspan><tspan dx="-1.5" dy="-24.2">/C</tspan></text>
<text class="leg" style="font-size:70px" x="532" y="364.5">Pt<tspan dx="3" dy="24.2">75</tspan><tspan dx="-1.5" dy="-24.2">Fe</tspan><tspan dx="2" dy="24.2">25</tspan><tspan dx="-1.5" dy="-24.2">/C</tspan></text>
</g>
<g id="axes" class="ax">
<rect x="337" y="76" width="1592.5" height="1171"/>
<path d="M309 1247 H337 M309 955 H337 M309 660.3 H337 M309 367.9 H337 M309 75.9 H337 M321.2 1101 H337 M321.2 806.5 H337 M321.2 514.3 H337 M321.2 222.1 H337 M405.1 1247 V1272.4 M821.5 1247 V1272.4 M1237.8 1247 V1272.4 M1651.8 1247 V1272.4 M612 1247 V1261 M1028.5 1247 V1261 M1445 1247 V1261 M1858.8 1247 V1261"/>
</g>
<rect x="913" y="77" width="2.4" height="3" fill="#ff0000"/>
<g id="ticklabels" class="tick">
<text x="295" y="1269" text-anchor="end">0</text>
<text x="295" y="977" text-anchor="end">50</text>
<text x="295" y="682.3" text-anchor="end">100</text>
<text x="295" y="389.9" text-anchor="end">150</text>
<text x="295" y="97.9" text-anchor="end">200</text>
<text x="402.8" y="1349.4" text-anchor="middle">0</text>
<text x="819.2" y="1349.4" text-anchor="middle">30</text>
<text x="1235.5" y="1349.4" text-anchor="middle">60</text>
<text x="1649.5" y="1349.4" text-anchor="middle">90</text>
</g>
<text class="ttl" x="1077" y="1442.9" text-anchor="middle">time / min</text>
<text class="ttl" style="font-size:90px" transform="rotate(-90)" y="103.7"><tspan x="-959.2">j</tspan><tspan x="-934.2"> </tspan><tspan x="-907.4">/</tspan><tspan x="-882.4"> </tspan><tspan x="-861.3">(</tspan><tspan x="-830.2">mA</tspan><tspan x="-686.3"> </tspan><tspan x="-661.3">mg</tspan><tspan x="-528.4" y="68.5" style="font-size:64px">−</tspan><tspan x="-491" y="72.1" style="font-size:64px">1</tspan><tspan x="-527.3" y="128.4" style="font-size:62px">Pt</tspan><tspan x="-447.9" y="103.7">)</tspan></text>
</svg></body></html>
